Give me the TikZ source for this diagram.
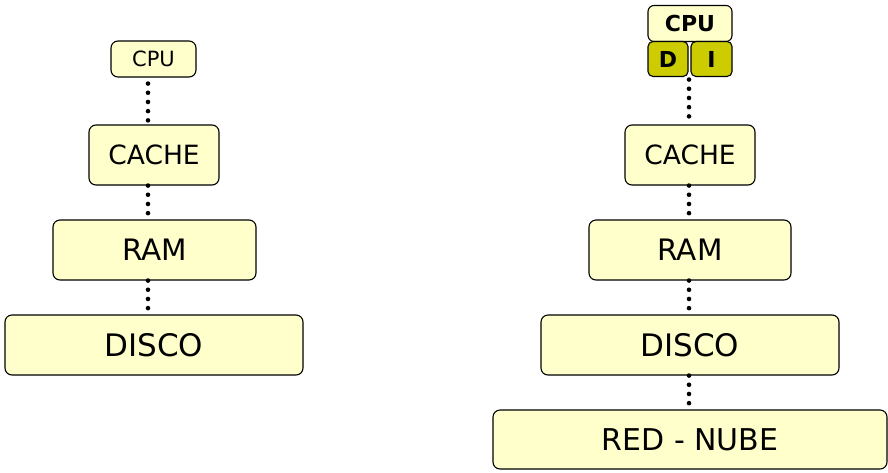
\documentclass[tikz,border=0pt]{standalone}
\usepackage{fontspec}
\setmainfont{DejaVu Sans}
\definecolor{boxfill}{HTML}{FFFFCC}
\definecolor{olivefill}{HTML}{CCCC00}
\begin{document}
\begin{tikzpicture}[x=1pt,y=-1pt,
  memb/.style={draw=black, line width=1.1pt, fill=boxfill, rounded corners=7pt, inner sep=0pt, anchor=center},
  subb/.style={draw=black, line width=1.1pt, fill=olivefill, rounded corners=5pt, inner sep=0pt, anchor=center},
  dots/.style={line width=4.6pt, line cap=round, dash pattern=on 0pt off 9.2pt}]
\useasboundingbox (0,0) rectangle (888,472);
\coordinate (dl) at (148,0);
\coordinate (dr) at (689,0);
% left column
\node[memb, minimum width=85pt, minimum height=36pt, font=\fontsize{21}{21}\selectfont] (cpuL) at (153.5,59) {CPU};
\node[memb, minimum width=130pt, minimum height=60pt, font=\fontsize{26.5}{26.5}\selectfont] (cacheL) at (154,155) {CACHE};
\node[memb, minimum width=203pt, minimum height=60pt, font=\fontsize{29.5}{29.5}\selectfont] (ramL) at (154.5,250) {RAM};
\node[memb, minimum width=298pt, minimum height=60pt, font=\fontsize{31}{31}\selectfont] (discoL) at (154,345) {DISCO};
% right column
\node[memb, minimum width=130pt, minimum height=60pt, font=\fontsize{26.5}{26.5}\selectfont] (cacheR) at (690,155) {CACHE};
\node[memb, minimum width=202pt, minimum height=60pt, font=\fontsize{29.5}{29.5}\selectfont] (ramR) at (690,250) {RAM};
\node[memb, minimum width=298pt, minimum height=60pt, font=\fontsize{31}{31}\selectfont] (discoR) at (690,345) {DISCO};
\node[memb, minimum width=394pt, minimum height=59pt, font=\fontsize{30}{30}\selectfont] (redR) at (690,439.5) {RED - NUBE};
\node[memb, minimum width=84pt, minimum height=36pt, font=\bfseries\fontsize{22}{22}\selectfont, rounded corners=6pt] (cpuR) at (690,23.5) {CPU};
\node[subb, minimum width=40pt, minimum height=35pt, font=\bfseries\fontsize{22}{22}\selectfont] (dR) at (668,59) {D};
\node[subb, minimum width=41pt, minimum height=35pt, font=\bfseries\fontsize{22}{22}\selectfont] (iR) at (711.5,59) {I};
% connectors
\draw[dots] ([yshift=-6pt]cpuL.south -| dl) -- (cacheL.north -| dl);
\draw[dots] (cacheL.south -| dl) -- (ramL.north -| dl);
\draw[dots] (ramL.south -| dl) -- (discoL.north -| dl);
\draw[dots] ([yshift=-2.5pt]dR.south -| dr) -- (cacheR.north -| dr);
\draw[dots] (cacheR.south -| dr) -- (ramR.north -| dr);
\draw[dots] (ramR.south -| dr) -- (discoR.north -| dr);
\draw[dots] (discoR.south -| dr) -- (redR.north -| dr);
\end{tikzpicture}
\end{document}
